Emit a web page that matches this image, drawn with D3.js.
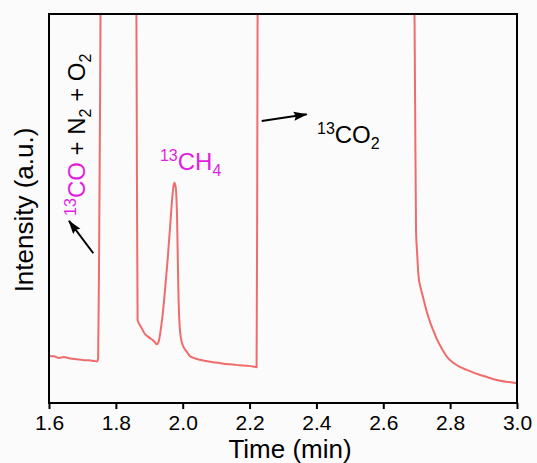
<!DOCTYPE html>
<html>
<head>
<meta charset="utf-8">
<script src="https://cdn.jsdelivr.net/npm/d3@7"></script>
<style>
    body { margin: 0; background: #fbfbfb; }
    svg { display: block; font-family: "Liberation Sans", Arial, sans-serif; }
</style>
</head>
<body>
<svg id="chart" width="537" height="463"></svg>
<script>
// retention time (min) and detector signal (a.u.)
const time = [
    1.600, 1.615, 1.630, 1.645, 1.660, 1.675, 1.690, 1.705, 1.720, 1.735, 1.744, 1.747, 1.750, 1.753, 1.756,
    1.860, 1.863, 1.865, 1.870, 1.877, 1.885, 1.897, 1.910, 1.918, 1.922, 1.928, 1.935, 1.941, 1.947, 1.955,
    1.962, 1.968, 1.972, 1.975, 1.979, 1.983, 1.987, 1.990, 1.995, 2.002, 2.012, 2.022, 2.032, 2.052, 2.070,
    2.090, 2.110, 2.130, 2.150, 2.170, 2.190, 2.210, 2.221, 2.223, 2.225,
    2.690, 2.695, 2.698, 2.701, 2.705, 2.712, 2.719, 2.730, 2.740, 2.749, 2.760, 2.775, 2.791, 2.810, 2.829,
    2.850, 2.870, 2.890, 2.910, 2.930, 2.950, 2.975, 3.000
];
const intensity = [
    12.1, 12.0, 11.6, 11.8, 11.5, 11.3, 11.2, 11.0, 11.0, 10.8, 10.7, 11.5, 40, 80, 130,
    130, 60, 21.3, 20.3, 19.3, 18.0, 17.0, 16.2, 15.5, 15.1, 15.8, 19.3, 23.5, 29, 37,
    45, 52, 55.5, 56.6, 55.5, 48, 29, 21, 16.5, 14.5, 13.2, 12.0, 11.6, 11.1, 10.8,
    10.5, 10.3, 10.0, 9.9, 9.7, 9.6, 9.4, 9.2, 60, 130,
    130, 80, 44, 39, 33, 29.5, 27.2, 23.5, 20.8, 18.8, 16.5, 14, 11.8, 10.3, 9.3,
    8.5, 7.8, 7.2, 6.7, 6.1, 5.7, 5.4, 5.1
];
const xTicks = [1.6, 1.8, 2.0, 2.2, 2.4, 2.6, 2.8, 3.0];

// annotation anchors in data units [time, intensity]
const arrows = [
    {from: [1.7325, 38.5], to: [1.6598, 46.8]},
    {from: [2.2363, 72.5], to: [2.3709, 74.2]}
];
const labelCH4 = [1.932, 59.9];
const labelCO2 = [2.4017, 66.8];
const labelCO = [1.7077, 48.1];

const lineColor = "#f06c6c";
const magenta = "#e11fe1";

const margin = {top: 14, right: 20, bottom: 60, left: 49},
    w = 537 - margin.left - margin.right,
    h = 463 - margin.top - margin.bottom;

const svg = d3.select("#chart");
const g = svg.append("g").attr("transform", `translate(${margin.left},${margin.top})`);

const x = d3.scaleLinear().domain([1.6, 3.0]).range([0, w]);
const y = d3.scaleLinear().domain([0, 100]).range([h, 0]);

const defs = svg.append("defs");
defs.append("clipPath").attr("id", "plotClip")
    .append("rect").attr("width", w).attr("height", h);

defs.append("marker")
    .attr("id", "head")
    .attr("viewBox", "0 0 14 10")
    .attr("refX", 13).attr("refY", 5)
    .attr("markerWidth", 7).attr("markerHeight", 5)
    .attr("markerUnits", "strokeWidth")
    .attr("orient", "auto")
    .append("path").attr("d", "M0,0.5 L14,5 L0,9.5 L2,5 Z").attr("fill", "#000");

const data = time.map((t, i) => [t, intensity[i]]);

g.append("path")
    .datum(data)
    .attr("clip-path", "url(#plotClip)")
    .attr("fill", "none")
    .attr("stroke", lineColor)
    .attr("stroke-width", 2)
    .attr("stroke-linejoin", "round")
    .attr("d", d3.line().x(d => x(d[0])).y(d => y(d[1])).curve(d3.curveMonotoneX));

// frame
g.append("rect")
    .attr("width", w).attr("height", h)
    .attr("fill", "none").attr("stroke", "#000").attr("stroke-width", 2);

const xAxis = g.append("g")
    .attr("transform", `translate(0,${h})`)
    .call(d3.axisBottom(x).tickValues(xTicks).tickFormat(d3.format(".1f")).tickSizeOuter(0).tickSize(6).tickPadding(6));
xAxis.select(".domain").remove();
xAxis.selectAll(".tick line").attr("stroke-width", 2);
xAxis.selectAll("text").attr("font-size", 21).attr("fill", "#000").attr("font-family", "Liberation Sans, Arial, sans-serif");

svg.append("text")
    .attr("x", 290).attr("y", 458)
    .attr("text-anchor", "middle").attr("font-size", 26)
    .text("Time (min)");

svg.append("text")
    .attr("transform", "translate(33,210) rotate(-90)")
    .attr("text-anchor", "middle").attr("font-size", 26)
    .text("Intensity (a.u.)");

// arrows
g.selectAll(".arrow")
    .data(arrows)
    .enter().append("line")
    .attr("class", "arrow")
    .attr("x1", d => x(d.from[0])).attr("y1", d => y(d.from[1]))
    .attr("x2", d => x(d.to[0])).attr("y2", d => y(d.to[1]))
    .attr("stroke", "#000").attr("stroke-width", 2)
    .attr("marker-end", "url(#head)");

// peak labels
const ch4 = g.append("text")
    .attr("x", x(labelCH4[0])).attr("y", y(labelCH4[1]))
    .attr("font-size", 24).attr("fill", magenta);
ch4.append("tspan").attr("font-size", 16).attr("dy", -9).text("13");
ch4.append("tspan").attr("dy", 9).text("CH");
ch4.append("tspan").attr("font-size", 16).attr("dy", 6).text("4");

const co2 = g.append("text")
    .attr("x", x(labelCO2[0])).attr("y", y(labelCO2[1]))
    .attr("font-size", 24).attr("fill", "#000");
co2.append("tspan").attr("font-size", 16).attr("dy", -9).text("13");
co2.append("tspan").attr("dy", 9).text("CO");
co2.append("tspan").attr("font-size", 16).attr("dy", 6).text("2");

const co = g.append("text")
    .attr("transform", `translate(${x(labelCO[0])},${y(labelCO[1])}) rotate(-90)`)
    .attr("font-size", 24).attr("fill", "#000");
co.append("tspan").attr("font-size", 16).attr("dy", -9).attr("fill", magenta).text("13");
co.append("tspan").attr("dy", 9).attr("fill", magenta).text("CO");
co.append("tspan").text(" + N");
co.append("tspan").attr("font-size", 16).attr("dy", 6).text("2");
co.append("tspan").attr("dy", -6).text(" + O");
co.append("tspan").attr("font-size", 16).attr("dy", 6).text("2");
</script>
</body>
</html>
